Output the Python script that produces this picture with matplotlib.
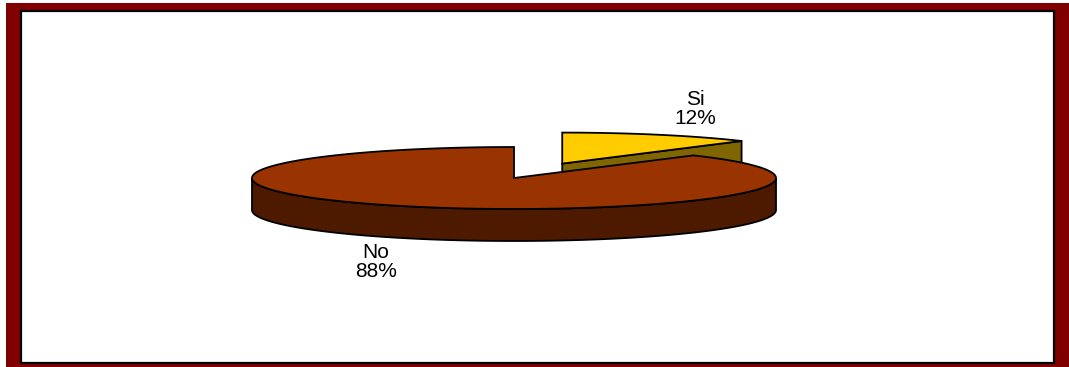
import numpy as np
import matplotlib.pyplot as plt
from matplotlib.patches import Polygon, Rectangle

# Data
labels = ['Si', 'No']
values = [12, 88]
top_colors = ['#ffcc00', '#993300']
side_colors = ['#806600', '#4d1a00']
explode = [0.5, 0.0]

W, H = 1069, 367
fig = plt.figure(figsize=(W / 100, H / 100), dpi=100)
ax = fig.add_axes([0, 0, 1, 1])
ax.set_xlim(0, W)
ax.set_ylim(H, 0)
ax.axis('off')

# dark red frame with white inner panel
ax.add_patch(Rectangle((6, 3), W - 6, H - 3, facecolor='#800000', edgecolor='none'))
ax.add_patch(Rectangle((20.5, 10.5), 1033, 352.5, facecolor='white', edgecolor='black', lw=1.6))

# pie geometry (pixels)
cx, cy, a, b, depth = 514, 178, 262, 31, 32
label_xy = {'Si': (695, 109), 'No': (376, 262)}


def rim(x0, y0, t, dz=0.0):
    t = np.radians(t)
    return np.column_stack([x0 + a * np.cos(t), y0 - b * np.sin(t) + dz])


total = float(sum(values))
start = 90.0
for lab, v, tc, sc, ex in zip(labels, values, top_colors, side_colors, explode):
    span = 360.0 * v / total
    t0, t1 = start - span, start  # clockwise from 12 o'clock
    start = t0
    mid = np.radians((t0 + t1) / 2)
    x0 = cx + ex * a * np.cos(mid)
    y0 = cy - ex * b * np.sin(mid)

    # radial faces facing the viewer
    for t, sign in ((t0, 1), (t1, -1)):
        if sign * np.cos(np.radians(t)) > 1e-6:
            p = rim(x0, y0, np.array([t]))[0]
            face = [(x0, y0), tuple(p), (p[0], p[1] + depth), (x0, y0 + depth)]
            ax.add_patch(Polygon(face, closed=True, facecolor=sc, edgecolor='black', lw=1.3))

    # curved outer wall on the front half
    for k in (-360, 0, 360):
        lo, hi = max(t0, k - 180), min(t1, k)
        if hi > lo:
            tt = np.linspace(lo, hi, 200)
            top = rim(x0, y0, tt)
            bot = rim(x0, y0, tt[::-1], depth)
            ax.add_patch(Polygon(np.vstack([top, bot]), closed=True,
                                 facecolor=sc, edgecolor='black', lw=1.3))

    # top face
    tt = np.linspace(t0, t1, 400)
    poly = np.vstack([[x0, y0], rim(x0, y0, tt)])
    ax.add_patch(Polygon(poly, closed=True, facecolor=tc, edgecolor='black', lw=1.3))

    lx, ly = label_xy[lab]
    ax.text(lx, ly, f"{lab}\n{round(100 * v / total)}%", ha='center', va='center',
            fontsize=15, family='Liberation Sans', color='black', linespacing=0.95)

fig.savefig('out.png', dpi=100)
